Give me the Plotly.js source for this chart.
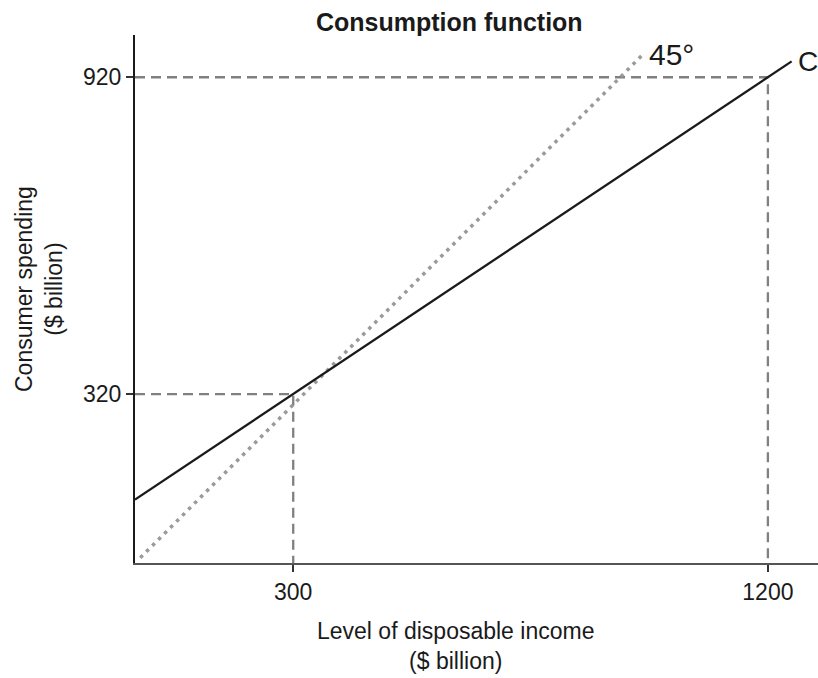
<!DOCTYPE html>
<html><head><meta charset="utf-8">
<script src="https://cdn.plot.ly/plotly-3.0.1.min.js"></script>
<style>body{margin:0;background:#fff}</style>
</head><body>
<div id="chart" style="width:818px;height:678px"></div>
<script>
// Data
const consumptionX = [0, 1245];
const consumptionY = [120, 950];
const line45X = [10, 962];
const line45Y = [10, 962];
const pointA = [300, 320];
const pointB = [1200, 920];
const xTickVals = [300, 1200];
const yTickVals = [320, 920];

const gray = '#808080';
const traces = [
  {x:[0, pointA[0], pointA[0]], y:[pointA[1], pointA[1], 0], mode:'lines',
   line:{color:gray, width:2.3, dash:'10px,6px'}, hoverinfo:'skip'},
  {x:[0, pointB[0], pointB[0]], y:[pointB[1], pointB[1], 0], mode:'lines',
   line:{color:gray, width:2.3, dash:'10px,6px'}, hoverinfo:'skip'},
  {x:line45X, y:line45Y, mode:'lines', line:{color:'#9a9a9a', width:3.5, dash:'3.5px,5px'}, hoverinfo:'skip'},
  {x:consumptionX, y:consumptionY, mode:'lines', line:{color:'#1a1a1a', width:2.3}, hoverinfo:'skip'}
];

const font = 'Liberation Sans, Arial, sans-serif';
const txt = '#1a1a1a';
const layout = {
  width:818, height:678,
  margin:{l:135, r:0, t:35, b:115},
  showlegend:false,
  paper_bgcolor:'#fff', plot_bgcolor:'#fff',
  font:{family:font, color:txt},
  xaxis:{range:[0,1295], showgrid:false, zeroline:false, showline:true, linecolor:'#555', linewidth:2,
    tickvals:xTickVals, ticktext:xTickVals.map(String), ticks:'outside', ticklen:7, tickwidth:1.5, tickcolor:'#333',
    tickfont:{size:23, family:font, color:txt}},
  yaxis:{range:[0,1000], showgrid:false, zeroline:false, showline:true, linecolor:'#1a1a1a', linewidth:2,
    tickvals:yTickVals, ticktext:yTickVals.map(String), ticks:'outside', ticklen:7, tickwidth:1.5, tickcolor:'#333',
    tickfont:{size:23, family:font, color:txt}},
  annotations:[
    {text:'<b>Consumption function</b>', xref:'paper', yref:'paper', x:(449-135)/683, y:1, yshift:13,
     xanchor:'center', yanchor:'middle', showarrow:false, font:{size:25, family:font, color:txt}},
    {text:'C', x:consumptionX[1], y:consumptionY[1], xanchor:'left', yanchor:'middle', xshift:4, yshift:0,
     showarrow:false, font:{size:28, family:font, color:txt}},
    {text:'45°', x:line45X[1], y:line45Y[1], xanchor:'left', yanchor:'middle', xshift:5, yshift:1,
     showarrow:false, font:{size:30, family:font, color:txt}},
    {text:'Level of disposable income<br>($ billion)', xref:'paper', yref:'paper', x:(455-135)/683, y:0, yshift:-83,
     xanchor:'center', yanchor:'middle', showarrow:false, font:{size:23, family:font, color:txt}},
    {text:'Consumer spending<br>($ billion)', xref:'paper', yref:'paper', x:0, xshift:-96, y:(563-289)/528,
     xanchor:'center', yanchor:'middle', textangle:-90, showarrow:false, font:{size:23, family:font, color:txt}}
  ]
};
Plotly.newPlot('chart', traces, layout, {staticPlot:true, displayModeBar:false});
</script>
</body></html>
